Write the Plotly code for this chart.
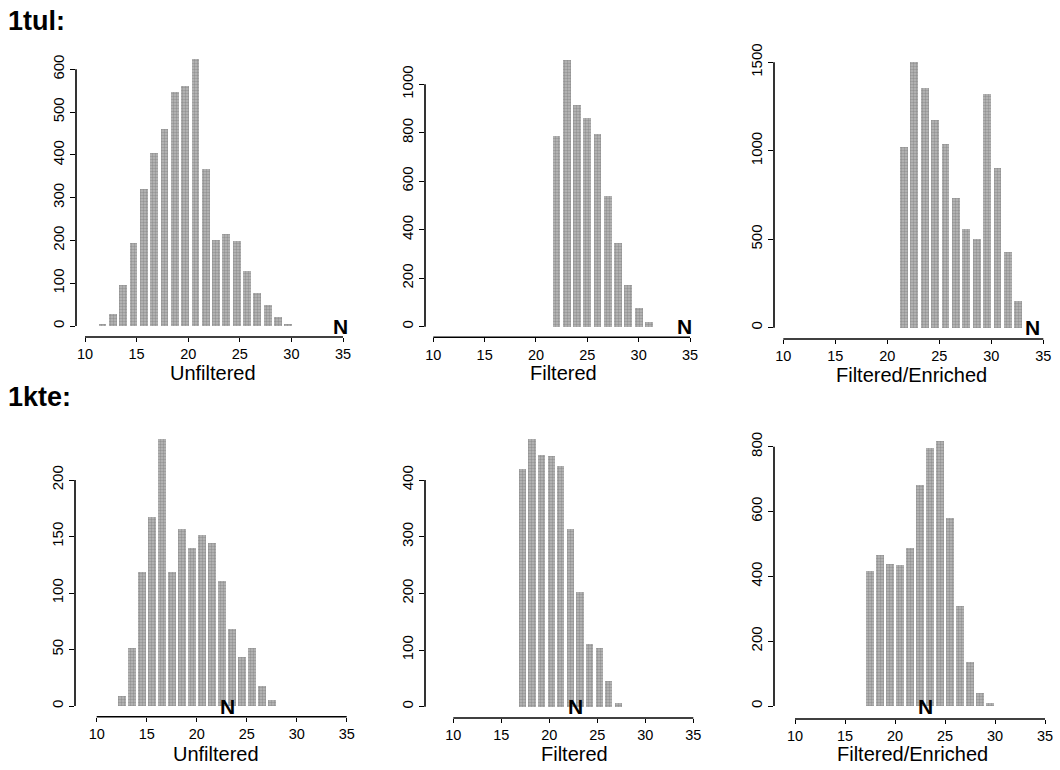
import plotly.graph_objects as go

# ---------------- data ----------------
row_labels = ["1tul:", "1kte:"]
panel_titles = ["Unfiltered", "Filtered", "Filtered/Enriched",
                "Unfiltered", "Filtered", "Filtered/Enriched"]

# bin centres (residue count) and frequencies for each panel
tul_unf_x = [11.7, 12.7, 13.7, 14.7, 15.7, 16.7, 17.7, 18.7, 19.7, 20.7,
             21.7, 22.7, 23.7, 24.7, 25.7, 26.7, 27.7, 28.7, 29.7]
tul_unf_y = [5, 28, 95, 195, 320, 404, 461, 546, 561, 623,
             367, 201, 216, 199, 129, 76, 48, 22, 4]

tul_fil_x = [22, 23, 24, 25, 26, 27, 28, 29, 30, 31]
tul_fil_y = [787, 1100, 915, 860, 794, 541, 344, 172, 78, 21]

tul_enr_x = [21.6, 22.6, 23.6, 24.6, 25.6, 26.6, 27.6, 28.6, 29.6, 30.6, 31.6, 32.6]
tul_enr_y = [1023, 1503, 1356, 1173, 1038, 731, 557, 499, 1320, 904, 429, 151]

kte_unf_x = [12.5, 13.5, 14.5, 15.5, 16.5, 17.5, 18.5, 19.5, 20.5, 21.5,
             22.5, 23.5, 24.5, 25.5, 26.5, 27.5]
kte_unf_y = [9, 51, 119, 167, 236, 119, 157, 140, 151, 144,
             111, 68, 43, 51, 18, 5]

kte_fil_x = [17.2, 18.2, 19.2, 20.2, 21.2, 22.2, 23.2, 24.2, 25.2, 26.2, 27.2]
kte_fil_y = [419, 472, 444, 442, 424, 314, 202, 110, 104, 46, 7]

kte_enr_x = [17.5, 18.5, 19.5, 20.5, 21.5, 22.5, 23.5, 24.5, 25.5, 26.5, 27.5, 28.5, 29.5]
kte_enr_y = [415, 466, 438, 435, 489, 682, 795, 819, 579, 309, 137, 41, 8]

# position of the "N" marker on each x axis
n_marker_x = [34.8, 34.5, 34.0, 23.1, 22.75, 23.0]

x_ticks = [10, 15, 20, 25, 30, 35]
y_ticks = [
    [0, 100, 200, 300, 400, 500, 600],
    [0, 200, 400, 600, 800, 1000],
    [0, 500, 1000, 1500],
    [0, 50, 100, 150, 200],
    [0, 100, 200, 300, 400],
    [0, 200, 400, 600, 800],
]

series_x = [tul_unf_x, tul_fil_x, tul_enr_x, kte_unf_x, kte_fil_x, kte_enr_x]
series_y = [tul_unf_y, tul_fil_y, tul_enr_y, kte_unf_y, kte_fil_y, kte_enr_y]

# ---------------- layout geometry (pixels in a 1060x770 canvas) ----------------
W, H = 1060, 770
# spine_x, px_of_10, px_of_35, spine_y(bottom), px_of_0, px_of_toptick, top_px, title_cx, title_cy
geom = [
    (76, 85.0, 343.0, 337.0, 326.0, 69.3, 50, 213, 373),
    (425, 433.3, 690.0, 337.3, 326.7, 84.3, 50, 563, 373),
    (774, 783.3, 1043.3, 339.0, 327.7, 62.3, 50, 911, 375),
    (75, 96.7, 346.7, 716.7, 706.0, 480.0, 425, 216, 754),
    (425, 453.3, 693.3, 718.0, 706.7, 480.0, 425, 574, 754),
    (774, 795.0, 1045.0, 719.0, 706.0, 446.7, 425, 912, 754),
]

FONT = "Liberation Sans, Arial, Helvetica, sans-serif"

fig = go.Figure()
layout = dict(
    width=W, height=H,
    margin=dict(l=0, r=0, t=0, b=0, autoexpand=False),
    paper_bgcolor="white", plot_bgcolor="white",
    showlegend=False,
    font=dict(family=FONT, color="black"),
    bargap=0,
)
shapes = []
annotations = []

for i in range(6):
    sx, p10, p35, sy, p0, ptop, top_px, tcx, tcy = geom[i]
    k = "" if i == 0 else str(i + 1)
    xs = x_ticks[-1] - x_ticks[0]
    xscale = (p35 - p10) / xs
    x_lo = x_ticks[0] - (p10 - sx) / xscale
    x_hi = x_ticks[-1] + 4 / xscale
    ytop_tick = y_ticks[i][-1]
    yscale = (p0 - ptop) / ytop_tick
    y_lo = -(sy - p0) / yscale
    y_hi = (p0 - top_px) / yscale

    fig.add_trace(go.Bar(
        x=series_x[i], y=series_y[i],
        width=0.76,
        marker=dict(color="#a4a4a4", line=dict(width=0),
                    pattern=dict(shape=".", fgcolor="#6e6e6e", bgcolor="#bababa",
                                 size=3, solidity=0.5)),
        xaxis="x" + k, yaxis="y" + k,
        hoverinfo="x+y",
    ))

    layout["xaxis" + k] = dict(
        domain=[sx / W, (p35 + 4) / W],
        range=[x_lo, x_hi],
        anchor="y" + k,
        automargin=False,
        showgrid=False, zeroline=False, showline=False,
        tickmode="array", tickvals=x_ticks,
        ticks="outside", ticklen=4, tickwidth=1.4, tickcolor="black",
        tickfont=dict(size=14.5, family=FONT),
        fixedrange=True,
    )
    layout["yaxis" + k] = dict(
        domain=[1 - sy / H, 1 - top_px / H],
        range=[y_lo, y_hi],
        anchor="x" + k,
        automargin=False,
        showgrid=False, zeroline=False, showline=False,
        tickmode="array", tickvals=y_ticks[i],
        ticks="outside", ticklen=5, tickwidth=1.4, tickcolor="black",
        tickangle=-90,
        tickfont=dict(size=15, family=FONT),
        fixedrange=True,
    )
    # R-style axis lines spanning first to last tick only
    shapes.append(dict(type="line", xref="x" + k, yref="y" + k + " domain",
                       x0=x_ticks[0], x1=x_ticks[-1], y0=0, y1=0,
                       line=dict(color="black", width=1.6)))
    shapes.append(dict(type="line", xref="x" + k + " domain", yref="y" + k,
                       x0=0, x1=0, y0=y_ticks[i][0], y1=y_ticks[i][-1],
                       line=dict(color="black", width=1.6)))
    annotations.append(dict(
        text="<b>N</b>", x=n_marker_x[i], y=0, xref="x" + k, yref="y" + k,
        xanchor="center", yanchor="middle", showarrow=False,
        font=dict(size=21, family=FONT, color="black"),
    ))
    annotations.append(dict(
        text=panel_titles[i], x=tcx / W, y=1 - tcy / H, xref="paper", yref="paper",
        xanchor="center", yanchor="middle", showarrow=False,
        font=dict(size=20, family=FONT, color="black"),
    ))

annotations.append(dict(text="<b>" + row_labels[0] + "</b>", x=6 / W, y=1 - 21 / H,
                        xref="paper", yref="paper", xanchor="left", yanchor="middle",
                        showarrow=False, font=dict(size=27, family=FONT)))
annotations.append(dict(text="<b>" + row_labels[1] + "</b>", x=6 / W, y=1 - 397 / H,
                        xref="paper", yref="paper", xanchor="left", yanchor="middle",
                        showarrow=False, font=dict(size=27, family=FONT)))

layout["shapes"] = shapes
layout["annotations"] = annotations
fig.update_layout(**layout)
fig.write_html("out.html",
               config={"displayModeBar": False},
               post_script="document.body.style.margin='0';document.body.style.overflow='hidden';")
